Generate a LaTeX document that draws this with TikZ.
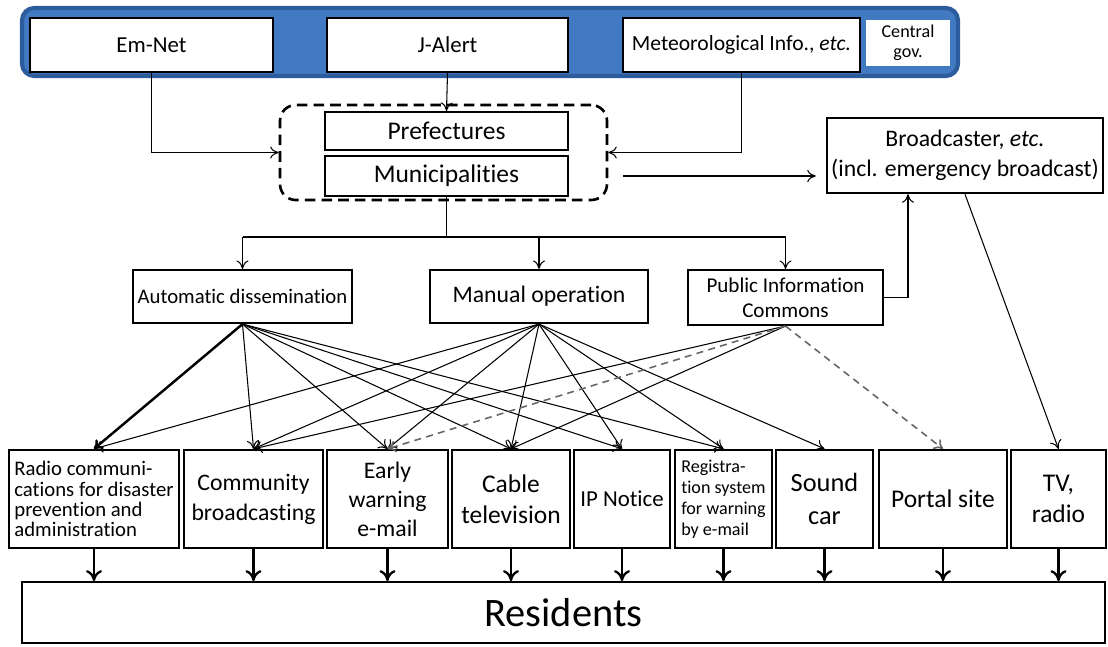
\documentclass[tikz,border=0pt]{standalone}
\usepackage{fontspec}
\setsansfont{Carlito}[Ligatures=NoCommon]
\usetikzlibrary{arrows.meta}
\definecolor{govfill}{HTML}{4279C3}
\definecolor{govline}{HTML}{2C5C9C}

\begin{document}
\begin{tikzpicture}[
    >={To[length=1.7mm,width=2.4mm]}, font=\sffamily, line width=0.6pt,
    govbar/.style={draw=govline, fill=govfill, line width=2.4pt, rounded corners=7pt,
                   minimum width=18.72cm, minimum height=1.36cm},
    srcbox/.style={draw, fill=white, line width=1.4pt, minimum height=1.08cm,
                   font=\sffamily\fontsize{13}{15}\selectfont},
    govlab/.style={fill=white, align=center, minimum width=1.68cm, minimum height=0.92cm,
                   inner sep=1pt, font=\sffamily\fontsize{10.3}{11.5}\selectfont},
    grpbox/.style={draw, line width=1.5pt, dash pattern=on 6pt off 3.5pt, rounded corners=9pt,
                   minimum width=6.54cm, minimum height=1.9cm},
    lgbox/.style={draw, fill=white, line width=1.2pt, minimum width=4.86cm, minimum height=0.76cm,
                  inner sep=1pt, font=\sffamily\fontsize{14.5}{16}\selectfont},
    bcbox/.style={draw, line width=1.4pt, align=center, minimum width=5.52cm, minimum height=1.5cm,
                  inner sep=1pt, font=\sffamily\fontsize{13.5}{17}\selectfont},
    opbox/.style={draw, line width=1.2pt, align=center, minimum height=1.06cm, inner sep=1pt},
    chan/.style={draw, line width=1.3pt, align=center, minimum height=1.96cm, inner sep=1pt,
                 font=\sffamily\fontsize{14.5}{17.5}\selectfont},
    small/.style={align=left, font=\sffamily\fontsize{11.8}{11.5}\selectfont},
    pubdash/.style={->, draw=black!60, line width=0.9pt, dash pattern=on 4pt off 3pt},
    res/.style={-{To[length=2.2mm,width=3.2mm]}, line width=1.3pt},
]
\useasboundingbox (0,0) rectangle (22.16,-12.92);

% central government
\node[govbar] (cgov) at (9.8,-0.84) {};
\node[srcbox, minimum width=4.86cm] (emnet) at (3.03,-0.9) {Em-Net};
\node[srcbox, minimum width=4.82cm] (jalert) at (8.95,-0.9) {J-Alert};
\node[srcbox, minimum width=4.74cm, inner sep=1pt, font=\sffamily\fontsize{12.3}{14}\selectfont] (met)
     at (14.83,-0.9) {Meteorological Info., \textit{etc.}};
\node[govlab] (gov) at (18.16,-0.86) {Central\\gov.};

% local government and broadcasters
\node[grpbox] (grp) at (8.87,-3.05) {};
\node[lgbox] (pref) at (8.93,-2.62) {Prefectures};
\node[lgbox, minimum height=0.8cm] (mun) at (8.93,-3.52) {Municipalities};
\node[bcbox] (bc) at (19.3,-3.11) {Broadcaster, \textit{etc.}\\(incl. emergency broadcast)};

\draw[->] (emnet.south) |- (grp.west);
\draw[->] (jalert.south) -- (pref.north);
\draw[->] (met.south) |- (grp.east);
\draw[->] ([xshift=3mm]grp.east |- mun) -- ([xshift=-2mm]bc.west |- mun);

% ways of sending
\node[opbox, minimum width=4.38cm, font=\sffamily\fontsize{11.8}{13}\selectfont] (auto) at (4.85,-5.93)
     {Automatic dissemination};
\node[opbox, minimum width=4.36cm, font=\sffamily\fontsize{13.5}{15}\selectfont] (man) at (10.78,-5.93)
     {Manual operation};
\node[opbox, minimum width=3.9cm, minimum height=1.1cm, font=\sffamily\fontsize{12}{14}\selectfont] (pub)
     at (15.71,-5.95) {Public Information\\Commons};

\coordinate (bus) at (8.93,-4.74);
\draw (mun.south) -- (bus);
\draw (auto.north |- bus) -- (pub.north |- bus);
\foreach \n in {auto,man,pub}
  \draw[->] (\n.north |- bus) -- (\n.north);
\draw[->] (pub.east) -| ([xshift=-1.14cm]bc.south);

% channels
\node[chan, minimum width=3.4cm, small] (radio) at (1.88,-9.98)
     {Radio communi-\\cations for disaster\\prevention and\\administration};
\node[chan, minimum width=2.78cm, font=\sffamily\fontsize{13.5}{17}\selectfont] (comm) at (5.07,-9.98)
     {Community\\broadcasting};
\node[chan, minimum width=2.42cm, font=\sffamily\fontsize{13.5}{16.5}\selectfont] (early) at (7.75,-9.98)
     {Early\\warning\\e-mail};
\node[chan, minimum width=2.36cm] (cable) at (10.22,-9.98) {Cable\\television};
\node[chan, minimum width=1.92cm, font=\sffamily\fontsize{13}{15}\selectfont] (ipn) at (12.44,-9.98)
     {IP Notice};
\node[chan, minimum width=1.94cm, small, font=\sffamily\fontsize{10.3}{12}\selectfont] (reg) at (14.47,-9.98)
     {Registra-\\tion system\\for warning\\by e-mail};
\node[chan, minimum width=1.94cm, font=\sffamily\fontsize{15}{19}\selectfont] (sound) at (16.49,-9.98)
     {Sound\\car};
\node[chan, minimum width=2.56cm] (portal) at (18.86,-9.98) {Portal site};
\node[chan, minimum width=1.9cm] (tv) at (21.17,-9.98) {TV,\\radio};

\draw[->, line width=1.4pt] (auto.south) -- (radio.north);
\foreach \t in {comm,early,cable,ipn,reg}
  \draw[->] (auto.south) -- (\t.north);
\foreach \t in {radio,comm,early,cable,ipn,reg,sound}
  \draw[->] (man.south) -- (\t.north);
\foreach \t in {comm,cable}
  \draw[->] (pub.south) -- (\t.north);
\foreach \t in {early,portal}
  \draw[pubdash] (pub.south) -- (\t.north);
\draw[->] (bc.south) -- (tv.north);

% residents
\node[draw, line width=1pt, minimum width=21.66cm, minimum height=1.22cm,
      font=\sffamily\fontsize{23}{27}\selectfont] (res) at (11.27,-12.25) {Residents};
\foreach \t in {radio,comm,early,cable,ipn,reg,sound,portal,tv}
  \draw[res] (\t.south) -- (\t.south |- res.north);

\end{tikzpicture}
\end{document}
